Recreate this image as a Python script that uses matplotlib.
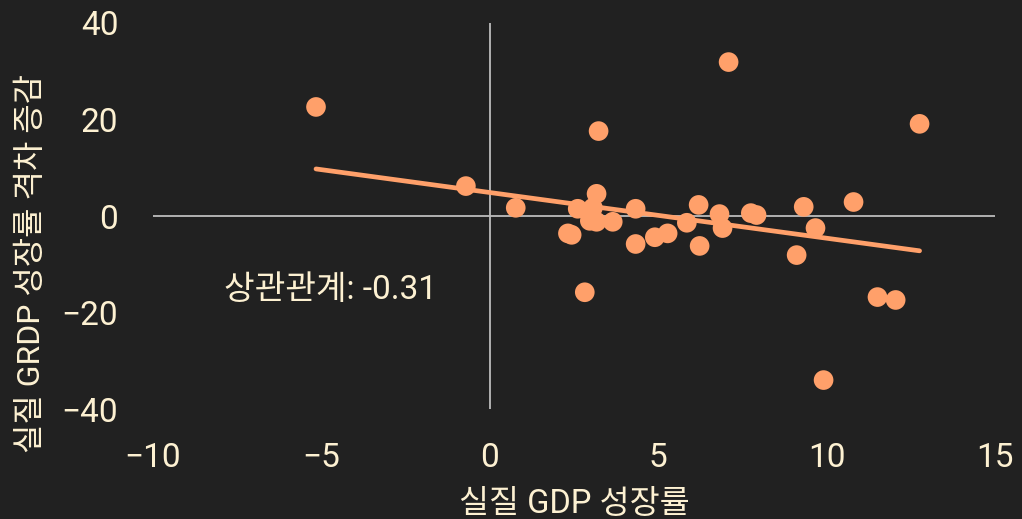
import numpy as np
import matplotlib.pyplot as plt

# 실질 GDP 성장률 (x) vs 실질 GRDP 성장률 격차 증감 (y)
gdp_growth = [-5.16, -0.71, 0.77, 7.09, 3.23, 12.76, 2.82, 9.91, 11.51, 12.05,
              9.11, 10.80, 9.32, 9.67, 7.92, 7.75, 6.82, 6.91, 6.23, 6.20,
              5.85, 5.28, 4.90, 4.33, 4.33, 3.65, 3.17, 2.61, 3.06, 2.97,
              3.17, 2.32, 2.43]
grdp_gap = [22.6, 6.2, 1.7, 31.9, 17.6, 19.1, -15.8, -34.0, -16.8, -17.4,
            -8.1, 2.9, 1.9, -2.5, 0.2, 0.6, 0.4, -2.5, -6.2, 2.3,
            -1.4, -3.6, -4.4, -5.8, 1.5, -1.2, 4.6, 1.5, 1.7, -1.0,
            -1.2, -3.6, -3.9]
corr_label = "상관관계: -0.31"
x_ticks = [-10, -5, 0, 5, 10, 15]
y_ticks = [-40, -20, 0, 20, 40]

bg = '#212121'
fg = '#FDF1D2'
pt_color = '#FFA06A'

plt.rcParams['font.family'] = ['Roboto', 'Noto Sans CJK KR', 'DejaVu Sans']

fig = plt.figure(figsize=(10.22, 5.19), dpi=100, facecolor=bg)
ax = fig.add_axes([0.1497, 0.2119, 0.8239, 0.7438])
ax.set_facecolor(bg)

x = np.array(gdp_growth)
y = np.array(grdp_gap)

# reference lines through the origin
ax.axhline(0, color='#BDBDBD', lw=1.3, zorder=1)
ax.axvline(0, color='#BDBDBD', lw=1.3, zorder=1)

ax.scatter(x, y, s=200, color=pt_color, edgecolors='none', zorder=3)

# linear fit
slope, intercept = np.polyfit(x, y, 1)
xs = np.array([x.min(), x.max()])
ax.plot(xs, slope * xs + intercept, color=pt_color, lw=3.4,
        solid_capstyle='round', zorder=2)

ax.text(-4.72, -15.3, corr_label, color=fg, fontsize=24,
        ha='center', va='center')

ax.set_xlim(-10, 15)
ax.set_ylim(-40, 40)
ax.set_xticks(x_ticks)
ax.set_yticks(y_ticks)
ax.tick_params(length=0, labelsize=24, labelcolor=fg)
ax.tick_params(axis='x', pad=24)
ax.tick_params(axis='y', pad=25)
for s in ax.spines.values():
    s.set_visible(False)

ax.set_xlabel('실질 GDP 성장률', color=fg, fontsize=23.5, labelpad=10)
ax.set_ylabel('실질 GRDP 성장률 격차 증감', color=fg, fontsize=23)
ax.yaxis.set_label_coords(-0.127, 0.376)

fig.savefig('out.png', dpi=100, facecolor=bg)
